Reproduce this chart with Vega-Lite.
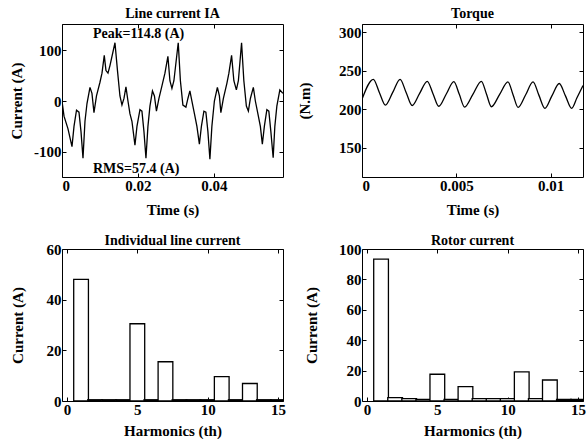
{
  "$schema": "https://vega.github.io/schema/vega-lite/v6.json",
  "padding": {"left": 9, "top": 6, "right": 0, "bottom": 0},
  "background": "white",
  "datasets": {
    "current": [
      {"t":0,"i":0},{"t":0.00053,"i":-30},{"t":0.00158,"i":-55},{"t":0.00263,"i":-90},{"t":0.00316,"i":-50},{"t":0.00382,"i":-18},{"t":0.00447,"i":-22},{"t":0.005,"i":-60},{"t":0.00553,"i":-113},{"t":0.00605,"i":-40},{"t":0.00658,"i":-5},{"t":0.00737,"i":27},{"t":0.00789,"i":15},{"t":0.00842,"i":-23},{"t":0.00908,"i":10},{"t":0.01,"i":37},{"t":0.01053,"i":55},{"t":0.01113,"i":90},{"t":0.01158,"i":60},{"t":0.01211,"i":55},{"t":0.01263,"i":70},{"t":0.01395,"i":115},{"t":0.01461,"i":60},{"t":0.01526,"i":10},{"t":0.01579,"i":-8},{"t":0.01632,"i":5},{"t":0.01684,"i":28},{"t":0.01737,"i":0},{"t":0.01789,"i":-25},{"t":0.01842,"i":-40},{"t":0.01921,"i":-87},{"t":0.01974,"i":-50},{"t":0.02053,"i":-17},{"t":0.02105,"i":-20},{"t":0.02158,"i":-60},{"t":0.02211,"i":-113},{"t":0.02263,"i":-50},{"t":0.02316,"i":-10},{"t":0.02382,"i":20},{"t":0.02434,"i":10},{"t":0.02487,"i":-20},{"t":0.02553,"i":5},{"t":0.02632,"i":30},{"t":0.02711,"i":55},{"t":0.02789,"i":88},{"t":0.02842,"i":40},{"t":0.02895,"i":25},{"t":0.02947,"i":40},{"t":0.03061,"i":115},{"t":0.03118,"i":40},{"t":0.03184,"i":-8},{"t":0.03263,"i":-12},{"t":0.03316,"i":5},{"t":0.03368,"i":20},{"t":0.03421,"i":0},{"t":0.035,"i":-30},{"t":0.03553,"i":-50},{"t":0.03618,"i":-85},{"t":0.03671,"i":-50},{"t":0.03737,"i":-20},{"t":0.03789,"i":-22},{"t":0.03842,"i":-60},{"t":0.03895,"i":-115},{"t":0.03947,"i":-50},{"t":0.04013,"i":0},{"t":0.04092,"i":27},{"t":0.04145,"i":10},{"t":0.04184,"i":-23},{"t":0.0425,"i":5},{"t":0.04342,"i":35},{"t":0.04395,"i":55},{"t":0.04466,"i":90},{"t":0.04526,"i":40},{"t":0.04592,"i":22},{"t":0.04645,"i":40},{"t":0.04729,"i":115},{"t":0.04789,"i":40},{"t":0.04855,"i":-10},{"t":0.04908,"i":-20},{"t":0.04961,"i":5},{"t":0.05039,"i":27},{"t":0.05092,"i":0},{"t":0.05171,"i":-30},{"t":0.05224,"i":-50},{"t":0.05276,"i":-85},{"t":0.05329,"i":-50},{"t":0.05395,"i":-17},{"t":0.05447,"i":-20},{"t":0.055,"i":-60},{"t":0.05561,"i":-112},{"t":0.05605,"i":-50},{"t":0.05658,"i":-10},{"t":0.05737,"i":22},{"t":0.05816,"i":15}
    ],
    "notes": [
      {"t":0.00816,"i":125,"label":"Peak=114.8 (A)"},
      {"t":0.00816,"i":-142,"label":"RMS=57.4 (A)"}
    ],
    "torque": [
      {"t":0,"T":213},{"t":0.0006,"T":239},{"t":0.00092,"T":222},{"t":0.00124,"T":205.5},{"t":0.00163,"T":222},{"t":0.00202,"T":239},{"t":0.00234,"T":222},{"t":0.00266,"T":205},{"t":0.00305,"T":220.5},{"t":0.00346,"T":236.5},{"t":0.00377,"T":220},{"t":0.00407,"T":204},{"t":0.00447,"T":220},{"t":0.00487,"T":236},{"t":0.00516,"T":219.5},{"t":0.00544,"T":203},{"t":0.00588,"T":219.5},{"t":0.00633,"T":236.5},{"t":0.0066,"T":220},{"t":0.00686,"T":203.4},{"t":0.0073,"T":219.5},{"t":0.00774,"T":235.8},{"t":0.00801,"T":219},{"t":0.00828,"T":202.5},{"t":0.00868,"T":219},{"t":0.00907,"T":235.8},{"t":0.00938,"T":218.5},{"t":0.0097,"T":201.3},{"t":0.01007,"T":217.5},{"t":0.01046,"T":233.6},{"t":0.01079,"T":217.5},{"t":0.01112,"T":201.3},{"t":0.0114,"T":215},{"t":0.01172,"T":231}
    ],
    "line_h": [
      {"h":1,"a":48},{"h":2,"a":0.5},{"h":3,"a":0.5},{"h":4,"a":0.5},{"h":5,"a":30.5},{"h":6,"a":0.5},{"h":7,"a":15.5},{"h":8,"a":0.5},{"h":9,"a":0.5},{"h":10,"a":0.5},{"h":11,"a":9.6},{"h":12,"a":0.5},{"h":13,"a":6.9},{"h":14,"a":0.5},{"h":15,"a":0.5}
    ],
    "rotor_h": [
      {"h":1,"a":93.4},{"h":2,"a":2.2},{"h":3,"a":1.5},{"h":4,"a":1.1},{"h":5,"a":17.6},{"h":6,"a":1.1},{"h":7,"a":9.5},{"h":8,"a":1.5},{"h":9,"a":1.5},{"h":10,"a":1.5},{"h":11,"a":19.1},{"h":12,"a":1.5},{"h":13,"a":13.8},{"h":14,"a":1},{"h":15,"a":1}
    ]
  },
  "columns": 2,
  "bounds": "flush",
  "spacing": {"row": 72, "column": 79},
  "concat": [
    {
      "width": 221, "height": 153,
      "title": {"text": "Line current IA"},
      "data": {"name": "current"},
      "layer": [
        {
          "mark": {"type": "line", "color": "black", "strokeWidth": 1.3, "clip": true},
          "encoding": {
            "x": {"field": "t", "type": "quantitative", "scale": {"domain": [0, 0.0582], "nice": false, "zero": false},
                  "axis": {"values": [0, 0.02, 0.04], "format": "~g", "title": "Time (s)", "titlePadding": 9}},
            "y": {"field": "i", "type": "quantitative", "scale": {"domain": [-150, 152], "nice": false},
                  "axis": {"values": [-100, 0, 100], "title": "Current (A)", "titlePadding": 9, "labelExpr": "replace(datum.label, '\u2212', '-')"}}
          }
        },
        {
          "data": {"name": "notes"},
          "mark": {"type": "text", "align": "left", "baseline": "alphabetic", "font": "Liberation Serif", "fontSize": 14, "fontWeight": "bold", "color": "black"},
          "encoding": {
            "x": {"field": "t", "type": "quantitative", "axis": null},
            "y": {"field": "i", "type": "quantitative", "axis": null},
            "text": {"field": "label"}
          }
        },
        {
          "mark": {"type": "point", "opacity": 0},
          "encoding": {
            "x": {"field": "t", "type": "quantitative", "scale": {"domain": [0, 0.0582], "nice": false, "zero": false},
                  "axis": {"orient": "top", "values": [0, 0.02, 0.04], "labels": false, "title": null}},
            "y": {"field": "i", "type": "quantitative", "scale": {"domain": [-150, 152], "nice": false},
                  "axis": {"orient": "right", "values": [-100, 0, 100], "labels": false, "title": null}}
          }
        }
      ],
      "resolve": {"axis": {"x": "independent", "y": "independent"}}
    },
    {
      "width": 221, "height": 153,
      "title": {"text": "Torque"},
      "data": {"name": "torque"},
      "layer": [
        {
          "mark": {"type": "line", "color": "black", "strokeWidth": 1.3, "clip": true, "interpolate": "monotone"},
          "encoding": {
            "x": {"field": "t", "type": "quantitative", "scale": {"domain": [0, 0.01172], "nice": false, "zero": false},
                  "axis": {"values": [0, 0.005, 0.01], "format": "~g", "title": "Time (s)", "titlePadding": 9}},
            "y": {"field": "T", "type": "quantitative", "scale": {"domain": [112, 311], "nice": false, "zero": false},
                  "axis": {"values": [150, 200, 250, 300], "title": "(N.m)", "titlePadding": 26}}
          }
        },
        {
          "mark": {"type": "point", "opacity": 0},
          "encoding": {
            "x": {"field": "t", "type": "quantitative", "scale": {"domain": [0, 0.01172], "nice": false, "zero": false},
                  "axis": {"orient": "top", "values": [0, 0.005, 0.01], "labels": false, "title": null}},
            "y": {"field": "T", "type": "quantitative", "scale": {"domain": [112, 311], "nice": false, "zero": false},
                  "axis": {"orient": "right", "values": [150, 200, 250, 300], "labels": false, "title": null}}
          }
        }
      ],
      "resolve": {"axis": {"x": "independent", "y": "independent"}}
    },
    {
      "width": 221, "height": 152,
      "title": {"text": "Individual line current", "offset": -6},
      "data": {"name": "line_h"},
      "layer": [
        {
          "mark": {"type": "bar", "fill": "white", "stroke": "black", "strokeWidth": 1.3, "width": 14.73, "clip": true},
          "encoding": {
            "x": {"field": "h", "type": "quantitative", "scale": {"domain": [0, 15], "nice": false},
                  "axis": {"values": [0, 5, 10, 15], "title": "Harmonics (th)"}},
            "y": {"field": "a", "type": "quantitative", "scale": {"domain": [0, 60], "nice": false},
                  "axis": {"values": [0, 20, 40, 60], "title": "Current (A)", "titlePadding": 21}}
          }
        },
        {
          "mark": {"type": "point", "opacity": 0},
          "encoding": {
            "x": {"field": "h", "type": "quantitative", "scale": {"domain": [0, 15], "nice": false},
                  "axis": {"orient": "top", "values": [0, 5, 10, 15], "labels": false, "title": null}},
            "y": {"field": "a", "type": "quantitative", "scale": {"domain": [0, 60], "nice": false},
                  "axis": {"orient": "right", "values": [0, 20, 40, 60], "labels": false, "title": null}}
          }
        }
      ],
      "resolve": {"axis": {"x": "independent", "y": "independent"}}
    },
    {
      "width": 221, "height": 152,
      "title": {"text": "Rotor current", "offset": -6},
      "data": {"name": "rotor_h"},
      "layer": [
        {
          "mark": {"type": "bar", "fill": "white", "stroke": "black", "strokeWidth": 1.3, "width": 14.73, "clip": true},
          "encoding": {
            "x": {"field": "h", "type": "quantitative", "scale": {"domain": [0, 15], "nice": false},
                  "axis": {"values": [0, 5, 10, 15], "title": "Harmonics (th)", "labelFlush": true}},
            "y": {"field": "a", "type": "quantitative", "scale": {"domain": [0, 100], "nice": false},
                  "axis": {"values": [0, 20, 40, 60, 80, 100], "title": "Current (A)", "titlePadding": 19}}
          }
        },
        {
          "mark": {"type": "point", "opacity": 0},
          "encoding": {
            "x": {"field": "h", "type": "quantitative", "scale": {"domain": [0, 15], "nice": false},
                  "axis": {"orient": "top", "values": [0, 5, 10, 15], "labels": false, "title": null}},
            "y": {"field": "a", "type": "quantitative", "scale": {"domain": [0, 100], "nice": false},
                  "axis": {"orient": "right", "values": [0, 20, 40, 60, 80, 100], "labels": false, "title": null}}
          }
        }
      ],
      "resolve": {"axis": {"x": "independent", "y": "independent"}}
    }
  ],
  "config": {
    "font": "Liberation Serif",
    "view": {"stroke": "black", "strokeWidth": 1},
    "axis": {
      "grid": false, "domain": false, "tickColor": "black", "tickSize": -4, "tickWidth": 1,
      "labelPadding": 5, "labelFont": "Liberation Serif", "labelFontSize": 15, "labelFontWeight": "bold", "labelColor": "black",
      "titleFont": "Liberation Serif", "titleFontSize": 15, "titleFontWeight": "bold", "titleColor": "black"
    },
    "axisX": {"titlePadding": 6},
    "title": {"font": "Liberation Serif", "fontSize": 14, "fontWeight": "bold", "color": "black", "offset": 3, "anchor": "middle"}
  }
}
